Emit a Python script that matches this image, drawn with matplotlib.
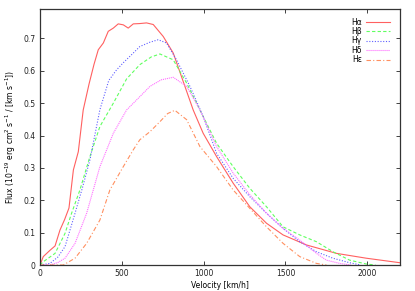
import matplotlib
matplotlib.use("Agg")
import matplotlib.pyplot as plt

# Hα
ha_x = [0, 20, 60, 92, 122, 150, 177, 204, 234, 264, 300, 330, 356, 387, 417, 448, 478, 509, 539, 570, 610, 651, 692, 753, 814, 875, 936, 997, 1079, 1180, 1282, 1384, 1485, 1628, 1811, 1994, 2200]
ha_y = [0, 0.026, 0.045, 0.059, 0.108, 0.14, 0.176, 0.294, 0.35, 0.479, 0.56, 0.62, 0.665, 0.686, 0.722, 0.732, 0.745, 0.742, 0.732, 0.745, 0.746, 0.748, 0.743, 0.706, 0.655, 0.567, 0.479, 0.407, 0.335, 0.253, 0.18, 0.129, 0.093, 0.062, 0.036, 0.021, 0.007]
# Hβ
hb_x = [0, 20, 92, 153, 193, 244, 305, 366, 448, 529, 610, 680, 733, 814, 896, 977, 1079, 1180, 1282, 1384, 1485, 1587, 1689, 1790, 1892, 1994, 2050]
hb_y = [0, 0.01, 0.036, 0.098, 0.16, 0.232, 0.335, 0.428, 0.50, 0.575, 0.619, 0.643, 0.652, 0.634, 0.562, 0.479, 0.376, 0.304, 0.237, 0.18, 0.118, 0.093, 0.072, 0.041, 0.015, 0.003, 0]
# Hγ
hg_x = [0, 61, 110, 153, 214, 260, 305, 366, 420, 468, 509, 560, 610, 670, 722, 773, 834, 916, 997, 1079, 1180, 1282, 1384, 1485, 1587, 1689, 1790, 1892, 1960]
hg_y = [0, 0.005, 0.025, 0.057, 0.16, 0.24, 0.325, 0.48, 0.57, 0.603, 0.625, 0.65, 0.675, 0.688, 0.696, 0.686, 0.634, 0.552, 0.459, 0.345, 0.268, 0.211, 0.16, 0.113, 0.072, 0.041, 0.021, 0.007, 0]
# Hδ
hd_x = [0, 61, 110, 153, 214, 285, 366, 448, 529, 590, 672, 740, 814, 896, 977, 1079, 1180, 1282, 1384, 1485, 1587, 1689, 1750, 1831, 1900]
hd_y = [0, 0.0, 0.008, 0.021, 0.067, 0.16, 0.304, 0.407, 0.479, 0.51, 0.552, 0.572, 0.58, 0.552, 0.479, 0.366, 0.284, 0.217, 0.16, 0.113, 0.077, 0.036, 0.015, 0.005, 0]
# Hε
he_x = [0, 142, 214, 285, 366, 427, 509, 570, 610, 672, 733, 780, 824, 896, 977, 1079, 1180, 1282, 1384, 1485, 1587, 1689, 1750]
he_y = [0, 0.0, 0.021, 0.067, 0.139, 0.232, 0.304, 0.356, 0.387, 0.412, 0.443, 0.468, 0.478, 0.449, 0.366, 0.304, 0.232, 0.175, 0.118, 0.067, 0.026, 0.005, 0]

labels = ["Hα", "Hβ", "Hγ", "Hδ", "Hε"]
xticks = [0, 500, 1000, 1500, 2000]
yticks = [0, 0.1, 0.2, 0.3, 0.4, 0.5, 0.6, 0.7]

fig = plt.figure(figsize=(4.15, 2.91), dpi=100)
ax = fig.add_axes([0.0964, 0.0893, 0.8676, 0.8787])

series = [
    (ha_x, ha_y, "#ff6060", "-"),
    (hb_x, hb_y, "#60ff60", (0, (3, 2))),
    (hg_x, hg_y, "#6060ff", (0, (1, 1.5))),
    (hd_x, hd_y, "#ff70ff", (0, (1, 0.8))),
    (he_x, he_y, "#ff9060", (0, (4, 2, 1, 2))),
]
for (x, y, c, ls), lab in zip(series, labels):
    ax.plot(x, y, color=c, ls=ls, lw=0.8, label=lab)

ax.set_xlim(0, 2200)
ax.set_ylim(0, 0.79)
ax.set_xticks(xticks)
ax.set_yticks(yticks)
ax.set_yticklabels(["0", "0.1", "0.2", "0.3", "0.4", "0.5", "0.6", "0.7"])
ax.tick_params(direction="in", length=3, width=0.6, labelsize=5.5, top=True, right=True, pad=3, colors="#222222")
for s in ax.spines.values():
    s.set_linewidth(0.9)
    s.set_color("#333333")
ax.set_xlabel("Velocity [km/h]", fontsize=5.5, labelpad=2)
ax.set_ylabel("Flux (10$^{-19}$ erg cm$^{2}$ s$^{-1}$ / [km s$^{-1}$])", fontsize=5.5, labelpad=4)

leg = ax.legend(loc="upper right", bbox_to_anchor=(0.985, 0.985), frameon=False, fontsize=5.5,
                markerfirst=False, handlelength=3.2, handletextpad=0.5, labelspacing=0.05,
                borderaxespad=0.2)
for t in leg.get_texts():
    t.set_ha("right")

fig.savefig("out.png", dpi=100)
